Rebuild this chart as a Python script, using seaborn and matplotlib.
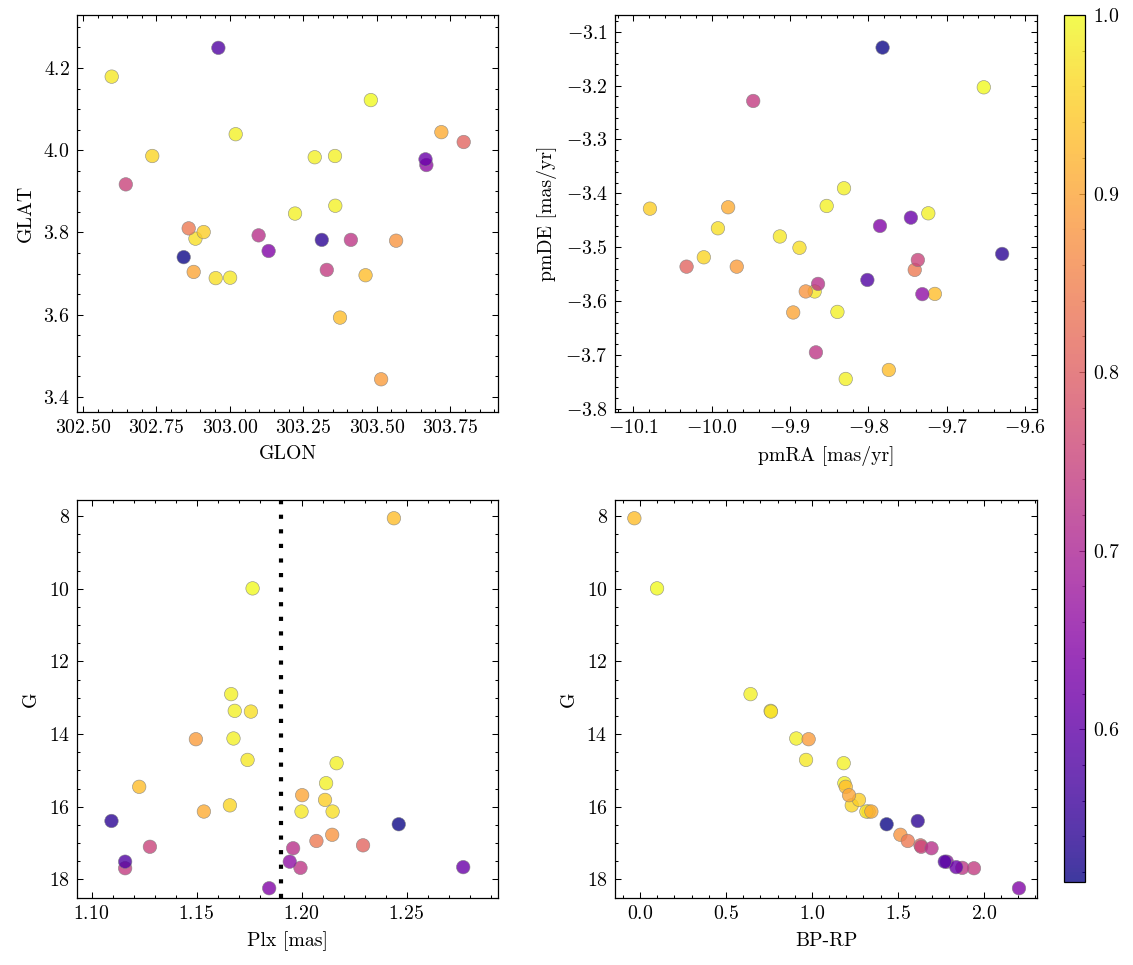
# Cluster members: sky position, proper motion, parallax and CMD coloured by membership probability
import numpy as np
import pandas as pd
import matplotlib as mpl
import matplotlib.pyplot as plt
import seaborn as sns

# star table (one entry per star, ordered by probability)
glon = [302.843, 303.313, 302.961, 303.666, 303.132, 303.669, 303.098, 303.412, 303.330, 302.646,
        303.796, 302.860, 303.566, 303.515, 302.877, 303.720, 303.462, 303.375, 302.911, 302.736,
        302.952, 302.598, 302.883, 303.001, 303.020, 303.222, 303.289, 303.358, 303.359, 303.480]
glat = [3.740, 3.782, 4.249, 3.978, 3.755, 3.964, 3.793, 3.782, 3.709, 3.917,
        4.020, 3.810, 3.780, 3.443, 3.704, 4.044, 3.696, 3.593, 3.801, 3.986,
        3.689, 4.179, 3.785, 3.690, 4.039, 3.846, 3.983, 3.986, 3.865, 4.122]
pmra = [-9.782, -9.6295, -9.8014, -9.7459, -9.7853, -9.7313, -9.8643, -9.867, -9.947, -9.737,
        -10.032, -9.741, -9.880, -9.968, -9.896, -9.979, -9.774, -9.7153, -10.0787, -10.010,
        -9.992, -9.913, -9.888, -9.8686, -9.8533, -9.8396, -9.8312, -9.829, -9.7237, -9.6529]
pmde = [-3.1295, -3.5124, -3.5607, -3.4451, -3.4605, -3.587, -3.568, -3.695, -3.2286, -3.5236,
        -3.536, -3.542, -3.582, -3.536, -3.621, -3.4258, -3.7277, -3.5866, -3.4284, -3.5186,
        -3.4648, -3.480, -3.501, -3.582, -3.4234, -3.620, -3.3905, -3.7444, -3.437, -3.2032]
plx = [1.2463, 1.1095, 1.116, 1.2770, 1.1846, 1.1944, 1.196, 1.1995, 1.116, 1.1278,
       1.2293, 1.2071, 1.2146, 1.1497, 1.2003, 1.1535, 1.2440, 1.1227, 1.2112, 1.1659,
       1.2148, 1.1743, 1.1759, 1.200, 1.1676, 1.2117, 1.1665, 1.2167, 1.1682, 1.1767]
gmag = [16.48, 16.39, 17.51, 17.66, 18.24, 17.51, 17.14, 17.68, 17.69, 17.10,
        17.06, 16.94, 16.77, 14.14, 15.68, 16.13, 8.06, 15.45, 15.81, 15.96,
        16.13, 14.71, 13.38, 16.13, 14.12, 15.35, 12.90, 14.80, 13.36, 9.99]
bprp = [1.435, 1.616, 1.773, 1.840, 2.205, 1.785, 1.696, 1.875, 1.943, 1.636,
        1.632, 1.558, 1.515, 0.981, 1.216, 1.346, -0.033, 1.197, 1.274, 1.232,
        1.317, 0.966, 0.762, 1.330, 0.909, 1.189, 0.643, 1.185, 0.760, 0.099]
prob = [0.515, 0.54, 0.58, 0.61, 0.64, 0.66, 0.72, 0.73, 0.74, 0.75,
        0.81, 0.84, 0.88, 0.89, 0.90, 0.91, 0.93, 0.93, 0.95, 0.96,
        0.97, 0.98, 0.97, 0.98, 0.99, 0.99, 0.99, 0.99, 0.99, 1.0]

plx_cut = 1.19

df = pd.DataFrame({'GLON': glon, 'GLAT': glat, 'pmRA': pmra, 'pmDE': pmde,
                   'Plx': plx, 'G': gmag, 'BP-RP': bprp, 'prob': prob})
# high probability drawn first, low probability on top
df = df.iloc[::-1].reset_index(drop=True)

sns.set_style('ticks')
plt.rcParams.update({
    'font.family': 'serif',
    'font.serif': ['cmr10', 'DejaVu Serif'],
    'mathtext.fontset': 'cm',
    'axes.formatter.use_mathtext': True,
    'font.size': 9.5,
    'axes.labelsize': 9.5,
    'xtick.labelsize': 9.5,
    'ytick.labelsize': 9.5,
    'text.color': 'black',
    'axes.labelcolor': 'black',
    'axes.linewidth': 0.6,
    'axes.edgecolor': 'black',
    'xtick.color': 'black',
    'ytick.color': 'black',
    'xtick.direction': 'in',
    'ytick.direction': 'in',
    'xtick.top': True,
    'ytick.right': True,
    'xtick.minor.visible': True,
    'ytick.minor.visible': True,
    'xtick.major.size': 3,
    'ytick.major.size': 3,
    'xtick.minor.size': 1.5,
    'ytick.minor.size': 1.5,
    'xtick.major.width': 0.5,
    'ytick.major.width': 0.5,
    'xtick.minor.width': 0.5,
    'ytick.minor.width': 0.5,
})

vmin, vmax = 0.5145, 1.0
norm = mpl.colors.Normalize(vmin=vmin, vmax=vmax)

fig = plt.figure(figsize=(1133 / 150, 965 / 150), dpi=150)
ax1 = fig.add_axes([0.0680, 0.5731, 0.3716, 0.4114])
ax2 = fig.add_axes([0.5428, 0.5731, 0.3725, 0.4114])
ax3 = fig.add_axes([0.0680, 0.0694, 0.3716, 0.4124])
ax4 = fig.add_axes([0.5428, 0.0694, 0.3725, 0.4124])
cax = fig.add_axes([0.9395, 0.0860, 0.0185, 0.8984])

kw = dict(hue='prob', palette='plasma', hue_norm=norm, s=42, alpha=0.8,
          edgecolor='grey', linewidth=0.3, legend=False)

sns.scatterplot(data=df, x='GLON', y='GLAT', ax=ax1, **kw)
ax1.set_xlim(302.48, 303.913)
ax1.set_ylim(3.3635, 4.329)
ax1.set_xlabel('GLON')
ax1.set_ylabel('GLAT')
ax1.ticklabel_format(useOffset=False)

sns.scatterplot(data=df, x='pmRA', y='pmDE', ax=ax2, **kw)
ax2.set_xlim(-10.1233, -9.585)
ax2.set_ylim(-3.8056, -3.069)
ax2.set_xlabel('pmRA [mas/yr]')
ax2.set_ylabel('pmDE [mas/yr]')
ax2.ticklabel_format(useOffset=False)

sns.scatterplot(data=df, x='Plx', y='G', ax=ax3, **kw)
ax3.axvline(plx_cut, color='black', ls=(0, (1, 2.5)), lw=2, zorder=3)
ax3.set_xlim(1.0931, 1.2936)
ax3.set_ylim(18.51, 7.56)
ax3.set_xlabel('Plx [mas]')
ax3.set_ylabel('G')

sns.scatterplot(data=df, x='BP-RP', y='G', ax=ax4, **kw)
ax4.set_xlim(-0.1457, 2.31)
ax4.set_ylim(18.51, 7.56)
ax4.set_xlabel('BP-RP')
ax4.set_ylabel('G')

sm = mpl.cm.ScalarMappable(norm=norm, cmap='plasma')
cbar = fig.colorbar(sm, cax=cax)
cbar.solids.set_alpha(0.8)
cbar.outline.set_linewidth(0.6)
cbar.ax.minorticks_on()
cbar.ax.tick_params(which='both', direction='in', width=0.5)
cbar.ax.tick_params(which='major', length=3)
cbar.ax.tick_params(which='minor', length=1.5)

fig.savefig('out.png', dpi=150)
